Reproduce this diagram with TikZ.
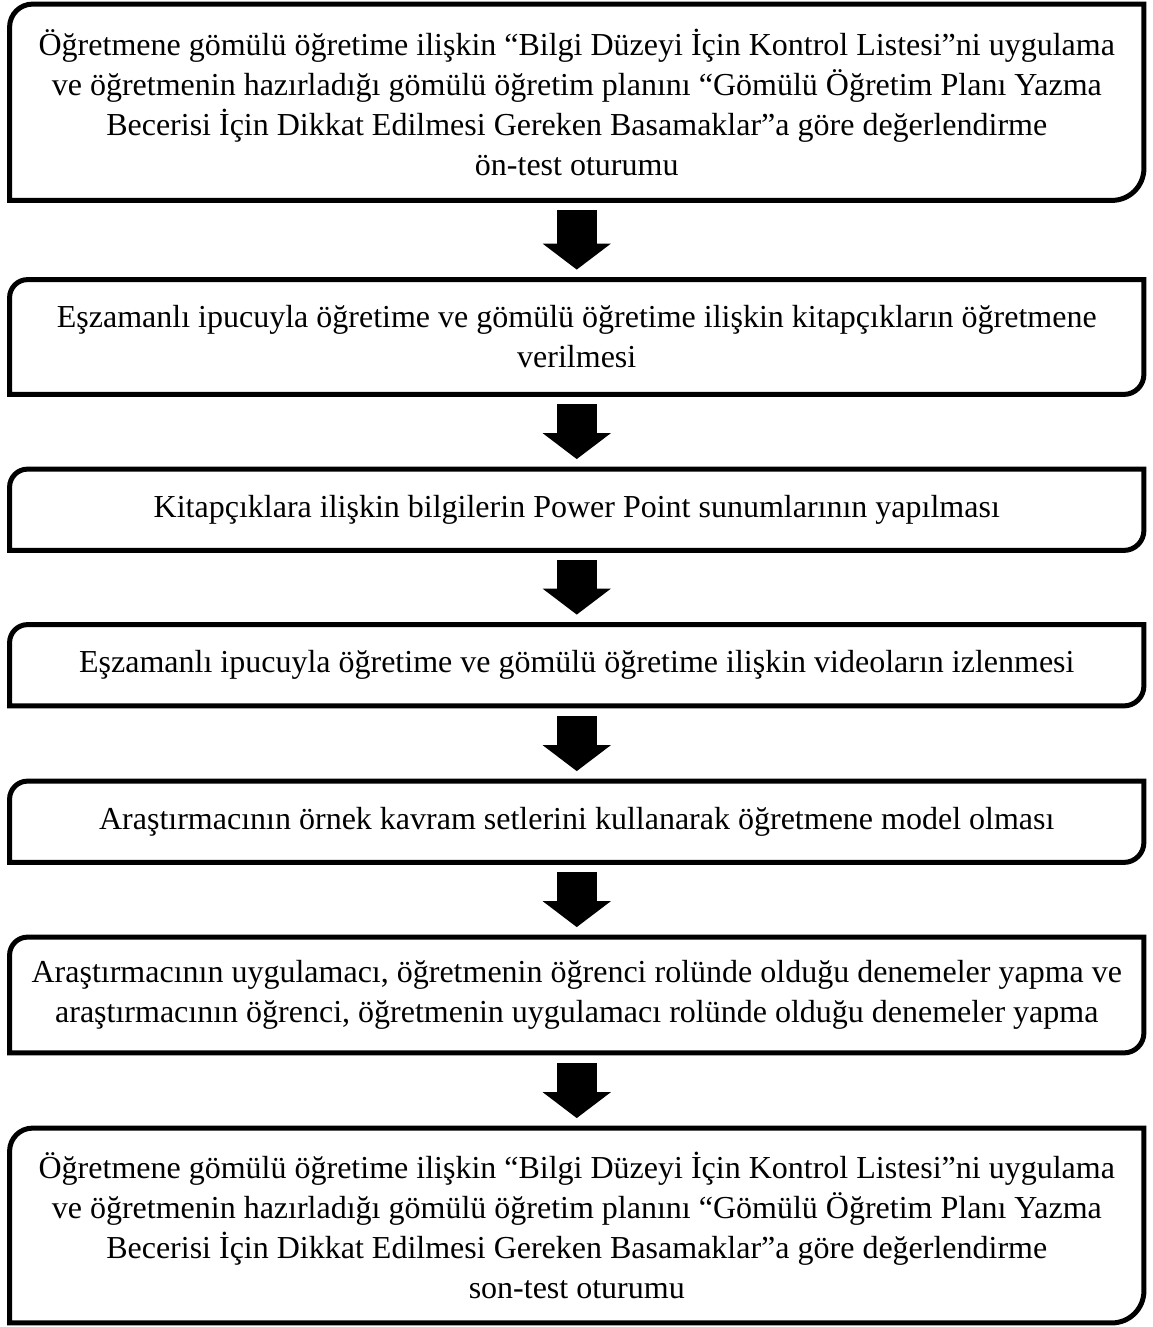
\documentclass[tikz,border=0pt]{standalone}
\usepackage{fontspec}
\setmainfont{Liberation Serif}
\usetikzlibrary{arrows.meta}

\tikzset{
  stage/.style={minimum width=566.75pt, inner sep=0pt, align=center,
    font=\fontsize{16}{20}\selectfont},
  frame/.style={line width=2.5pt},
  bigarrow/.style={line width=20pt, shorten <=5pt, shorten >=5pt,
    -{Triangle[length=13pt 0 0, width=33.5pt 0 0]}}
}

\begin{document}
\begin{tikzpicture}[x=0.5pt, y=0.5pt]
    \useasboundingbox (0,0) rectangle (1152,-1327);

    \node[stage, minimum height=97.75pt] (b1) at (576.75, -102.25) {Öğretmene gömülü öğretime ilişkin “Bilgi Düzeyi İçin Kontrol Listesi”ni uygulama\\ve öğretmenin hazırladığı gömülü öğretim planını “Gömülü Öğretim Planı Yazma\\Becerisi İçin Dikkat Edilmesi Gereken Basamaklar”a göre değerlendirme\\ön-test oturumu};
    \node[stage, minimum height=57pt] (b2) at (576.75, -337) {Eşzamanlı ipucuyla öğretime ve gömülü öğretime ilişkin kitapçıkların öğretmene\\verilmesi};
    \node[stage, minimum height=40.25pt] (b3) at (576.75, -509.75) {Kitapçıklara ilişkin bilgilerin Power Point sunumlarının yapılması};
    \node[stage, minimum height=40.25pt] (b4) at (576.75, -665.25) {Eşzamanlı ipucuyla öğretime ve gömülü öğretime ilişkin videoların izlenmesi};
    \node[stage, minimum height=40.25pt] (b5) at (576.75, -821.75) {Araştırmacının örnek kavram setlerini kullanarak öğretmene model olması};
    \node[stage, minimum height=57.5pt] (b6) at (576.75, -995) {Araştırmacının uygulamacı, öğretmenin öğrenci rolünde olduğu denemeler yapma ve\\araştırmacının öğrenci, öğretmenin uygulamacı rolünde olduğu denemeler yapma};
    \node[stage, minimum height=97pt] (b7) at (576.75, -1225.5) {Öğretmene gömülü öğretime ilişkin “Bilgi Düzeyi İçin Kontrol Listesi”ni uygulama\\ve öğretmenin hazırladığı gömülü öğretim planını “Gömülü Öğretim Planı Yazma\\Becerisi İçin Dikkat Edilmesi Gereken Basamaklar”a göre değerlendirme\\son-test oturumu};

    % frames: rounded top left and bottom right
    \foreach \s/\r/\q in {b1/11.5/16,b2/9/10,b3/9/10,b4/9/10,b5/9/10,b6/9/10,b7/11.5/16}
      \draw[frame] (\s.south west) -- ([yshift=-\r pt]\s.north west)
        to[out=90, in=180] ([xshift=\r pt]\s.north west) -- (\s.north east)
        -- ([yshift=\q pt]\s.south east)
        to[out=-90, in=0] ([xshift=-\q pt]\s.south east) -- cycle;

    % arrows
    \foreach \u/\v in {b1/b2,b2/b3,b3/b4,b4/b5,b5/b6,b6/b7}
      \draw[bigarrow] (\u) -- (\v);
\end{tikzpicture}
\end{document}
